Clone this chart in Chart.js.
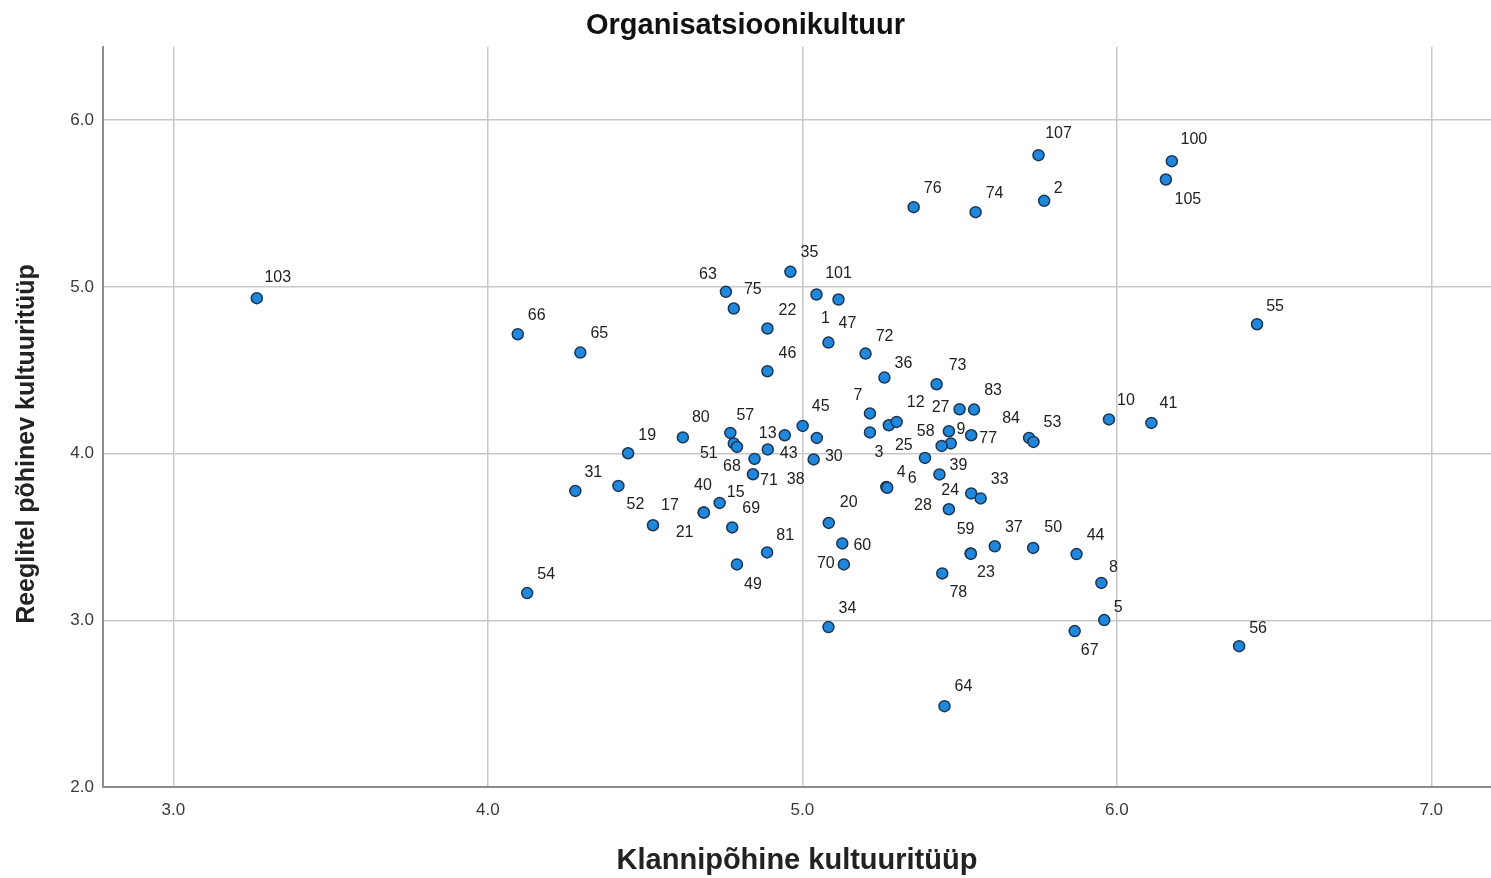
<!DOCTYPE html>
<html><head><meta charset="utf-8">
<script src="https://cdn.jsdelivr.net/npm/chart.js@4"></script>
<style>html,body{margin:0;padding:0;background:#fff;}canvas{display:block;}</style>
</head><body>
<canvas id="c" width="1491" height="878"></canvas>
<script>
// Case numbers (null = label hidden in the original)
const caseIds = [103,66,65,63,75,35,101,1,47,22,46,72,36,73,76,74,107,2,100,105,55,10,41,
  7,3,25,12,27,83,9,77,null,58,null,39,4,6,24,33,28,84,53,45,13,30,38,43,57,51,68,null,71,
  80,19,31,52,17,21,40,15,69,81,49,54,20,60,70,34,59,23,78,37,50,44,8,5,67,56,64];
// Klannipõhine kultuuritüüp (x)
const klannipohine = [3.265,4.095,4.294,4.757,4.782,4.962,5.045,5.115,5.083,4.889,4.889,5.201,5.261,5.427,5.354,5.551,5.751,5.769,6.175,6.156,6.446,5.975,6.110,
  5.215,5.215,5.275,5.300,5.500,5.546,5.466,5.537,5.472,5.443,5.390,5.436,5.267,5.270,5.537,5.567,5.466,5.721,5.735,5.001,4.944,5.046,5.036,4.890,4.771,4.782,4.792,4.848,4.843,
  4.620,4.446,4.278,4.415,4.525,4.686,4.687,4.737,4.777,4.888,4.792,4.125,5.084,5.127,5.132,5.083,5.535,5.536,5.445,5.612,5.734,5.872,5.951,5.960,5.866,6.389,5.452];
// Reeglitel põhinev kultuuritüüp (y)
const reeglitel = [4.932,4.716,4.606,4.970,4.870,5.090,4.954,4.924,4.666,4.750,4.494,4.600,4.456,4.416,5.478,5.448,5.790,5.516,5.754,5.644,4.776,4.205,4.184,
  4.241,4.127,4.170,4.190,4.266,4.264,4.134,4.110,4.061,4.046,3.974,3.875,3.800,3.795,3.761,3.731,3.666,4.094,4.070,4.166,4.110,4.094,3.965,4.025,4.124,4.061,4.040,3.968,3.876,
  4.097,4.002,3.776,3.806,3.570,3.647,3.646,3.704,3.557,3.407,3.335,3.163,3.584,3.461,3.335,2.959,3.401,3.399,3.281,3.444,3.434,3.397,3.224,3.001,2.935,2.845,2.485];
const xTickValues = [3, 4, 5, 6, 7];
const yTickValues = [2, 3, 4, 5, 6];
const chartTitle = 'Organisatsioonikultuur';
const xTitle = 'Klannipõhine kultuuritüüp';
const yTitle = 'Reeglitel põhinev kultuuritüüp';

// label placement (pixel offset of label centre from its point)
const labelOffsets = {
  103:[21,-21],63:[-18,-17],101:[22,-21],1:[-13,19],22:[20,-18],46:[20,-18],72:[19,-17],36:[19,-14],73:[21,-19],
  107:[20,-22],2:[14,-12],100:[22,-22],105:[22,20],55:[18,-18],10:[17,-19],41:[17,-19],
  7:[-12,-18],3:[9,20],25:[15,20],27:[-19,-2],9:[12,-2],77:[17,3],58:[-16,-14],39:[19,-9],4:[15,-14],6:[25,-9],
  24:[-21,-3],28:[-26,-4],84:[-18,-19],45:[18,-19],13:[-17,-2],30:[17,19],38:[-18,20],43:[21,4],57:[15,-17],
  51:[-25,10],68:[-5,20],71:[16,6],80:[18,-20],19:[19,-18],31:[18,-18],52:[17,19],17:[17,-20],21:[-19,20],
  40:[-1,-27],15:[16,-10],81:[18,-17],49:[16,20],20:[20,-20],60:[20,2],70:[-18,-1],59:[-5,-24],23:[15,19],
  78:[16,19],50:[20,-20],8:[12,-15],5:[14,-13],67:[15,19],56:[19,-18],64:[19,-20]
};

const FONT = '"Liberation Sans", Arial, sans-serif';
const points = klannipohine.map((x, i) => ({ x: x, y: reeglitel[i] }));

const pointLabels = {
  id: 'pointLabels',
  afterDatasetsDraw(chart) {
    const ctx = chart.ctx;
    const meta = chart.getDatasetMeta(0);
    ctx.save();
    ctx.font = '16px ' + FONT;
    ctx.fillStyle = '#222';
    ctx.textAlign = 'center';
    ctx.textBaseline = 'middle';
    meta.data.forEach((el, i) => {
      const id = caseIds[i];
      if (id === null) return;
      const off = labelOffsets[id] || [19, -19];
      ctx.fillText(String(id), el.x + off[0], el.y + off[1]);
    });
    ctx.restore();
  }
};
const yAxisTitle = {
  id: 'yAxisTitle',
  afterDraw(chart) {
    const ctx = chart.ctx;
    ctx.save();
    ctx.translate(27, 444);
    ctx.rotate(-Math.PI / 2);
    ctx.font = 'bold 25px ' + FONT;
    ctx.fillStyle = '#222';
    ctx.textAlign = 'center';
    ctx.textBaseline = 'middle';
    ctx.fillText(yTitle, 0, 0);
    ctx.restore();
  }
};

new Chart(document.getElementById('c'), {
  type: 'scatter',
  data: { datasets: [{
    data: points,
    backgroundColor: '#1f88dd',
    borderColor: '#1c3553',
    borderWidth: 1.5,
    pointRadius: 5.5,
    pointHoverRadius: 5.5
  }]},
  options: {
    responsive: false,
    animation: false,
    devicePixelRatio: 1,
    layout: { padding: 0, autoPadding: false },
    plugins: {
      legend: { display: false },
      tooltip: { enabled: false },
      title: { display: true, text: chartTitle, color: '#111',
        font: { family: FONT, size: 29, weight: 'bold' }, padding: { top: 9, bottom: 3 } }
    },
    scales: {
      x: {
        type: 'linear', min: 2.776, max: 7.19,
        afterBuildTicks: s => { s.ticks = xTickValues.map(v => ({ value: v })); },
        afterFit: s => { s.height = 91; s.paddingLeft = 0; s.paddingRight = 0; },
        grid: { color: '#c8c8c8', lineWidth: 1.5, drawTicks: false },
        border: { color: '#8c8c8c', width: 2 },
        ticks: { color: '#3a3a3a', font: { family: FONT, size: 17 }, padding: 13,
          callback: v => Number(v).toFixed(1), maxRotation: 0 },
        title: { display: true, text: xTitle, color: '#222',
          font: { family: FONT, size: 29, weight: 'bold' }, padding: { top: 0, bottom: 0 } }
      },
      y: {
        type: 'linear', min: 2, max: 6.44,
        afterBuildTicks: s => { s.ticks = yTickValues.map(v => ({ value: v })); },
        afterFit: s => { s.width = 103; s.paddingTop = 0; s.paddingBottom = 0; },
        grid: { color: '#c8c8c8', lineWidth: 1.5, drawTicks: false },
        border: { color: '#8c8c8c', width: 2 },
        ticks: { color: '#3a3a3a', font: { family: FONT, size: 17 }, padding: 9,
          callback: v => Number(v).toFixed(1) }
      }
    }
  },
  plugins: [pointLabels, yAxisTitle]
});
</script>
</body></html>
